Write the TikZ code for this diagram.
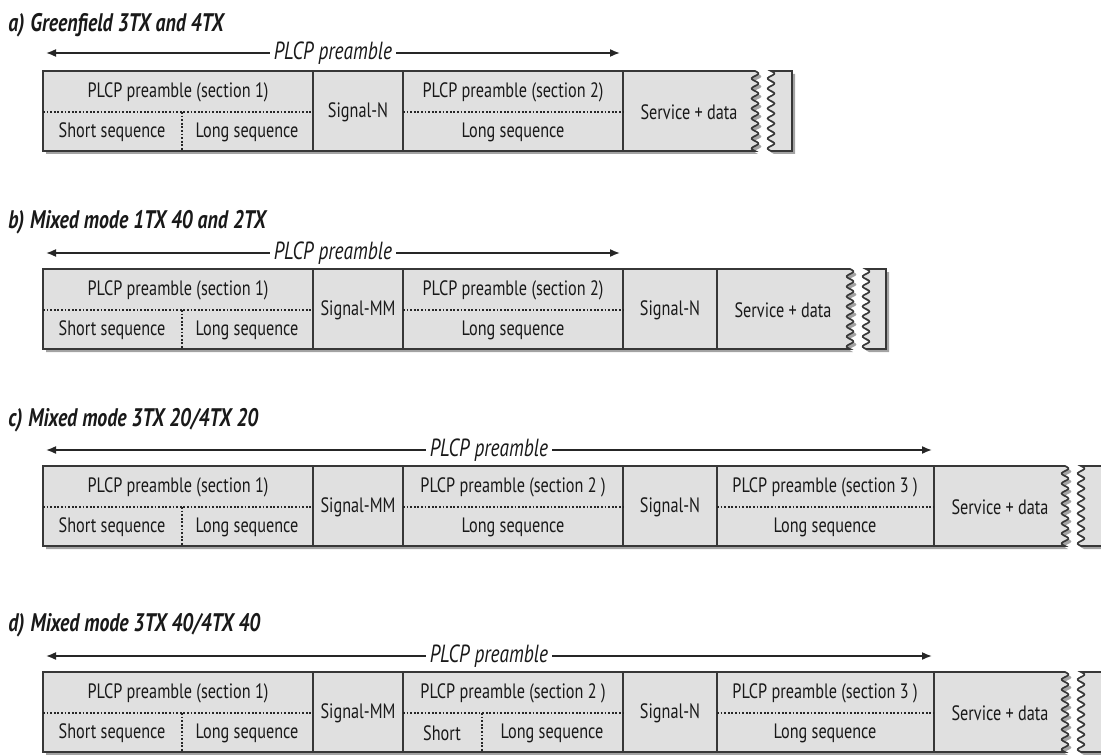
\documentclass[tikz,border=0pt]{standalone}
\usepackage{fontspec}
\setmainfont{PT Sans}[FakeStretch=0.78]
\usetikzlibrary{arrows.meta,shadows}
\definecolor{cellgray}{RGB}{224,224,224}
\definecolor{linegray}{RGB}{55,55,55}

\begin{document}
\begin{tikzpicture}[x=0.5pt, y=-0.5pt,
        celltext/.style={font=\fontsize{10.4}{12}\selectfont, text=black!90, inner sep=0pt},
        titletext/.style={font=\fontsize{12.7}{14}\selectfont\bfseries\itshape, text=black!90, anchor=west, inner sep=0pt},
        spantext/.style={font=\fontsize{12.4}{14}\selectfont\itshape, text=black!90, inner sep=2pt},
        spanarrow/.style={-{Latex[length=5pt,width=4pt]}, draw=black!85, line width=0.8pt},
        framebox/.style={fill=cellgray, draw=linegray, line width=0.8pt,
            drop shadow={shadow xshift=1.5pt, shadow yshift=-1.5pt, fill=black!60, opacity=0.6}},
        divider/.style={draw=linegray, line width=0.9pt},
        dotline/.style={draw=black!85, line width=0.9pt, dash pattern=on 0.9pt off 0.9pt},
        ]
            \useasboundingbox (0,0) rectangle (1101,754);

            % a) Greenfield
            \node[titletext] at(8,25) (ta) {a)\hspace{3pt}Greenfield 3TX and 4TX};
            \node[spantext] at(333,53) (pa) {PLCP preamble};
            \coordinate (paL) at (46,53);
            \coordinate (paR) at (620,53);
            \draw[spanarrow] (pa.west) -- (paL);
            \draw[spanarrow] (pa.east) -- (paR);

            \path[framebox] (43,71) -- (755,71) -- plot[domain=71:151, samples=80] ({755+3.4*sin((\x-71)*36)}, \x) -- (43,151) -- cycle;
            \path[framebox] plot[domain=71:151, samples=80] ({771+3.4*sin((\x-71)*36)}, \x) -- (792,151) -- (792,71) -- cycle;
            \foreach \xd in {313,403,623} \draw[divider] (\xd,71) -- (\xd,151);
            \draw[dotline] (43,112) -- (313,112);
            \draw[dotline] (403,112) -- (623,112);
            \draw[dotline] (182,112) -- (182,151);

            \node[celltext] at(178,92) (a1) {PLCP preamble (section 1)};
            \node[celltext] at(112,132) (a1s) {Short sequence};
            \node[celltext] at(247,132) (a1l) {Long sequence};
            \node[celltext] at(358,112) (a2) {Signal-N};
            \node[celltext] at(513,92) (a3) {PLCP preamble (section 2)};
            \node[celltext] at(513,132) (a3l) {Long sequence};
            \node[celltext] at(689,112) (a4) {Service + data};

            % b) Mixed mode 1TX 40 and 2TX
            \node[titletext] at(8,222) (tb) {b)\hspace{3pt}Mixed mode 1TX 40 and 2TX};
            \node[spantext] at(333,253) (pb) {PLCP preamble};
            \coordinate (pbL) at (46,253);
            \coordinate (pbR) at (620,253);
            \draw[spanarrow] (pb.west) -- (pbL);
            \draw[spanarrow] (pb.east) -- (pbR);

            \path[framebox] (43,269) -- (850,269) -- plot[domain=269:349, samples=80] ({850+3.4*sin((\x-269)*36)}, \x) -- (43,349) -- cycle;
            \path[framebox] plot[domain=269:349, samples=80] ({866+3.4*sin((\x-269)*36)}, \x) -- (886,349) -- (886,269) -- cycle;
            \foreach \xd in {313,403,623,717} \draw[divider] (\xd,269) -- (\xd,349);
            \draw[dotline] (43,310) -- (313,310);
            \draw[dotline] (403,310) -- (623,310);
            \draw[dotline] (182,310) -- (182,349);

            \node[celltext] at(178,290) (b1) {PLCP preamble (section 1)};
            \node[celltext] at(112,330) (b1s) {Short sequence};
            \node[celltext] at(247,330) (b1l) {Long sequence};
            \node[celltext] at(358,310) (b2) {Signal-MM};
            \node[celltext] at(513,290) (b3) {PLCP preamble (section 2)};
            \node[celltext] at(513,330) (b3l) {Long sequence};
            \node[celltext] at(670,310) (b4) {Signal-N};
            \node[celltext] at(783,310) (b5) {Service + data};

            % c) Mixed mode 3TX 20/4TX 20
            \node[titletext] at(8,420) (tc) {c)\hspace{3pt}Mixed mode 3TX 20/4TX 20};
            \node[spantext] at(489,450) (pc) {PLCP preamble};
            \coordinate (pcL) at (46,450);
            \coordinate (pcR) at (932,450);
            \draw[spanarrow] (pc.west) -- (pcL);
            \draw[spanarrow] (pc.east) -- (pcR);

            \path[framebox] (43,466) -- (1065,466) -- plot[domain=466:546, samples=80] ({1065+3.4*sin((\x-466)*36)}, \x) -- (43,546) -- cycle;
            \path[framebox] plot[domain=466:546, samples=80] ({1081+3.4*sin((\x-466)*36)}, \x) -- (1110,546) -- (1110,466) -- cycle;
            \foreach \xd in {313,403,623,717,934} \draw[divider] (\xd,466) -- (\xd,546);
            \draw[dotline] (43,507) -- (313,507);
            \draw[dotline] (403,507) -- (623,507);
            \draw[dotline] (717,507) -- (934,507);
            \draw[dotline] (182,507) -- (182,546);

            \node[celltext] at(178,487) (c1) {PLCP preamble (section 1)};
            \node[celltext] at(112,527) (c1s) {Short sequence};
            \node[celltext] at(247,527) (c1l) {Long sequence};
            \node[celltext] at(358,507) (c2) {Signal-MM};
            \node[celltext] at(513,487) (c3) {PLCP preamble (section 2 )};
            \node[celltext] at(513,527) (c3l) {Long sequence};
            \node[celltext] at(670,507) (c4) {Signal-N};
            \node[celltext] at(825,487) (c5) {PLCP preamble (section 3 )};
            \node[celltext] at(825,527) (c5l) {Long sequence};
            \node[celltext] at(1000,507) (c6) {Service + data};

            % d) Mixed mode 3TX 40/4TX 40
            \node[titletext] at(8,625) (td) {d)\hspace{3pt}Mixed mode 3TX 40/4TX 40};
            \node[spantext] at(489,656) (pd) {PLCP preamble};
            \coordinate (pdL) at (46,656);
            \coordinate (pdR) at (932,656);
            \draw[spanarrow] (pd.west) -- (pdL);
            \draw[spanarrow] (pd.east) -- (pdR);

            \path[framebox] (43,672) -- (1065,672) -- plot[domain=672:752, samples=80] ({1065+3.4*sin((\x-672)*36)}, \x) -- (43,752) -- cycle;
            \path[framebox] plot[domain=672:752, samples=80] ({1081+3.4*sin((\x-672)*36)}, \x) -- (1110,752) -- (1110,672) -- cycle;
            \foreach \xd in {313,403,623,717,934} \draw[divider] (\xd,672) -- (\xd,752);
            \draw[dotline] (43,713) -- (313,713);
            \draw[dotline] (403,713) -- (623,713);
            \draw[dotline] (717,713) -- (934,713);
            \draw[dotline] (182,713) -- (182,752);
            \draw[dotline] (482,713) -- (482,752);

            \node[celltext] at(178,693) (d1) {PLCP preamble (section 1)};
            \node[celltext] at(112,733) (d1s) {Short sequence};
            \node[celltext] at(247,733) (d1l) {Long sequence};
            \node[celltext] at(358,713) (d2) {Signal-MM};
            \node[celltext] at(513,693) (d3) {PLCP preamble (section 2 )};
            \node[celltext] at(442,733) (d3s) {Short};
            \node[celltext] at(552,733) (d3l) {Long sequence};
            \node[celltext] at(670,713) (d4) {Signal-N};
            \node[celltext] at(825,693) (d5) {PLCP preamble (section 3 )};
            \node[celltext] at(825,733) (d5l) {Long sequence};
            \node[celltext] at(1000,713) (d6) {Service + data};

            \end{tikzpicture}
\end{document}
